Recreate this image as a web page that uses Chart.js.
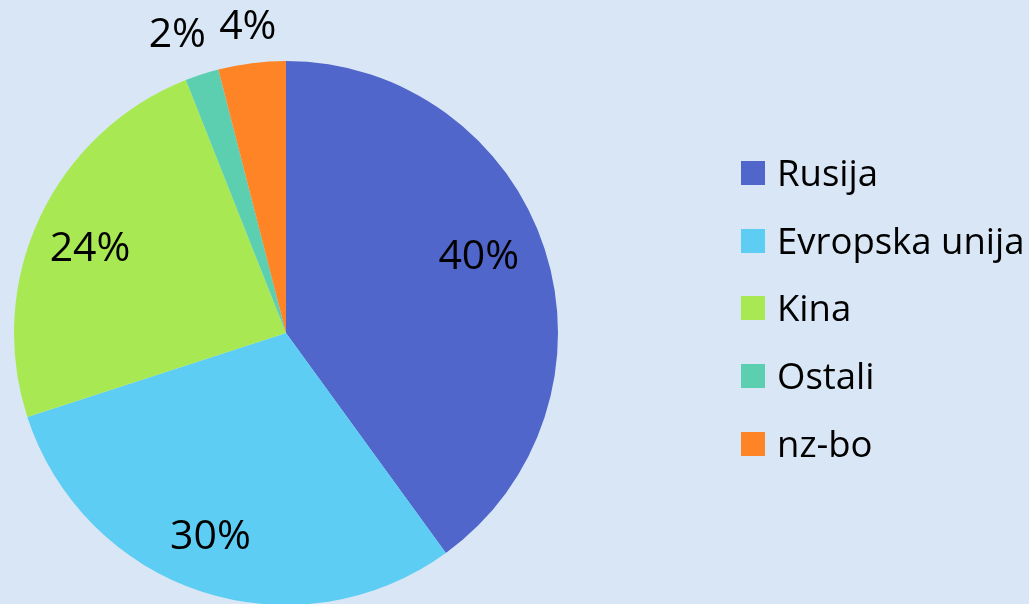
<!DOCTYPE html>
<html>
<head>
<meta charset="utf-8">
<script src="https://cdn.jsdelivr.net/npm/chart.js@4/dist/chart.umd.min.js"></script>
<style>
  html, body { margin: 0; padding: 0; background: #d9e6f5; overflow: hidden; }
  #wrap { position: relative; width: 1029px; height: 604px; overflow: hidden; }
  #pie { position: absolute; left: 0; top: 0; }
  #legend { position: absolute; left: 741px; top: 154px; font-family: "Open Sans", sans-serif; font-size: 36.5px; line-height: 36px; color: #000; white-space: nowrap; }
  #legend div { height: 67.7px; display: flex; align-items: flex-start; }
  #legend span.box { display: inline-block; width: 24px; height: 24px; margin-top: 7px; margin-right: 12px; }
</style>
</head>
<body>
<div id="wrap">
  <canvas id="pie" width="1029" height="610"></canvas>
  <div id="legend"></div>
</div>
<script>
(function () {
  const labels = ['Rusija', 'Evropska unija', 'Kina', 'Ostali', 'nz-bo'];
  const shares = [40, 30, 24, 2, 4];
  const colors = ['#5066ca', '#5dcdf3', '#a8e953', '#5dcfb1', '#fe8426'];

  // percentage labels, placed from each arc's own angles/radius,
  // with small nudges so they sit like the original's best-fit labels
  const pctLabels = {
    id: 'pctLabels',
    afterDatasetsDraw(chart, args, opts) {
      const ctx = chart.ctx;
      const meta = chart.getDatasetMeta(0);
      ctx.save();
      ctx.font = '41px "Open Sans", sans-serif';
      ctx.fillStyle = '#000';
      ctx.textAlign = 'center';
      ctx.textBaseline = 'middle';
      meta.data.forEach((arc, i) => {
        const p = arc.getProps(['x', 'y', 'startAngle', 'endAngle', 'outerRadius']);
        const mid = (p.startAngle + p.endAngle) / 2;
        const f = shares[i] < 5 ? 1.15 : 0.78;
        const r = p.outerRadius * f;
        const n = opts.nudge[i] || [0, 0];
        ctx.fillText(shares[i] + '%', p.x + Math.cos(mid) * r + n[0], p.y + Math.sin(mid) * r + n[1]);
      });
      ctx.restore();
    }
  };

  new Chart(document.getElementById('pie').getContext('2d'), {
    type: 'pie',
    data: {
      labels: labels,
      datasets: [{
        data: shares,
        backgroundColor: colors,
        borderWidth: 0
      }]
    },
    options: {
      responsive: false,
      animation: false,
      layout: { padding: { left: 14, right: 471, top: 61, bottom: 5 } },
      plugins: {
        legend: { display: false },
        tooltip: { enabled: false },
        pctLabels: { nudge: [[-9, -10], [-10, 3], [-4, 7], [-12, 0], [1, 5]] }
      }
    },
    plugins: [pctLabels]
  });

  const legendNode = document.getElementById('legend');
  labels.forEach((name, i) => {
    const row = document.createElement('div');
    const box = document.createElement('span');
    box.className = 'box';
    box.style.background = colors[i];
    const txt = document.createElement('span');
    txt.innerText = name;
    row.appendChild(box);
    row.appendChild(txt);
    legendNode.appendChild(row);
  });
})();
</script>
</body>
</html>
